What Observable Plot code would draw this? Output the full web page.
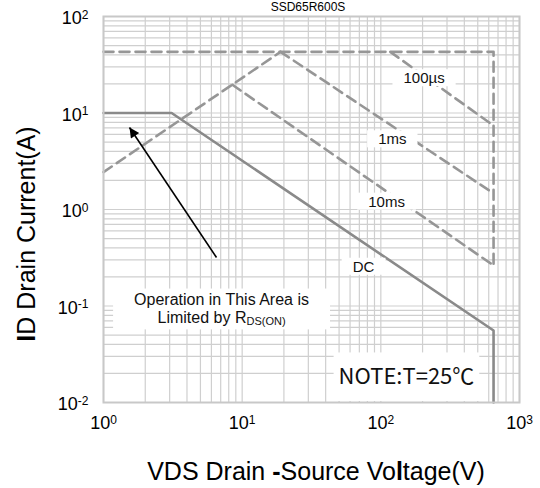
<!DOCTYPE html>
<html><head><meta charset="utf-8">
<script src="https://cdn.jsdelivr.net/npm/d3@7"></script>
<script src="https://cdn.jsdelivr.net/npm/@observablehq/plot@0.6"></script>
<style>body{margin:0;background:#fff;} svg{display:block;overflow:visible}</style>
</head><body><div id="chart"></div>
<script>
// ---- data ----
const titleText = "SSD65R600S";
const xTicks = [1, 10, 100, 1000];
const xExp = ["0", "1", "2", "3"];
const yTicks = [0.01, 0.1, 1, 10, 100];
const yExp = ["-2", "-1", "0", "1", "2"];

// DC (solid)
const dcV = [1, 3.1, 650, 650];
const dcI = [10, 10, 0.0557, 0.01];
// envelope: pulsed current limit + voltage limit (dashed)
const envV = [1, 650, 650];
const envI = [43, 43, 0.263];
// RDS(on) limit (dashed)
const rdsV = [1, 18.9];
const rdsI = [2.44, 43];
// pulse lines
const us100V = [117, 650];
const us100I = [43, 7.4];
const ms1V = [18.9, 650];
const ms1I = [43, 1.47];
const ms10V = [8.5, 650];
const ms10I = [19.6, 0.263];

const curveLabels = ["100µs", "1ms", "10ms", "DC"];
const curveLabelV = [205, 121, 110, 75];
const curveLabelI = [22.8, 5.31, 1.20, 0.254];

const opLines = ["Operation in This Area is", "Limited by R_DS(ON)"];
const opV = [7.1, 7.1];
const opI = [0.117, 0.076];

const noteText = "NOTE:T=25℃";
const noteV = [153];
const noteI = [0.0182];

const arrowFromV = 6.53, arrowFromI = 0.318;
const arrowToV = 1.54, arrowToI = 7.08;

// ---- chart ----
const W = 540, H = 488;
const pts = (v, i) => v.map((d, k) => ({v: d, i: i[k]}));
const sans = "Liberation Sans, Arial, Helvetica, sans-serif";
const dash = {x: "v", y: "i", stroke: "#969696", strokeWidth: 2.6, strokeDasharray: "10,6"};
const gridV = d3.scaleLog().domain([1, 1000]).ticks();
const gridI = d3.scaleLog().domain([0.01, 100]).ticks();

const svg = Plot.plot({
  width: W, height: H,
  marginLeft: 103, marginRight: 21, marginTop: 16, marginBottom: 86,
  style: {fontFamily: sans, background: "#fff", overflow: "visible"},
  x: {type: "log", domain: [1, 1000], axis: null},
  y: {type: "log", domain: [0.01, 100], axis: null},
  marks: [
    Plot.gridX({ticks: gridV, stroke: "#cfcfcf", strokeOpacity: 1, strokeWidth: 1.2}),
    Plot.gridY({ticks: gridI, stroke: "#cfcfcf", strokeOpacity: 1, strokeWidth: 1.2}),
    Plot.line(pts(envV, envI), dash),
    Plot.line(pts(rdsV, rdsI), dash),
    Plot.line(pts(us100V, us100I), dash),
    Plot.line(pts(ms1V, ms1I), dash),
    Plot.line(pts(ms10V, ms10I), dash),
    Plot.line(pts(dcV, dcI), {x: "v", y: "i", stroke: "#8a8a8a", strokeWidth: 2.6}),
    Plot.text(pts(curveLabelV, curveLabelI).map((p, k) => ({...p, t: curveLabels[k]})),
      {x: "v", y: "i", text: "t", fontSize: 15, fill: "#111"}),
    Plot.text(pts(opV, opI).map((p, k) => ({...p, t: opLines[k]})),
      {x: "v", y: "i", text: "t", fontSize: 16, fill: "#111"}),
    Plot.text(pts(noteV, noteI).map(p => ({...p, t: noteText})),
      {x: "v", y: "i", text: "t", fontSize: 22, fill: "#111", fontFamily: "Noto Sans CJK SC, Noto Sans, sans-serif"}),
    Plot.link([{x1: arrowFromV, y1: arrowFromI, x2: arrowToV, y2: arrowToI}],
      {x1: "x1", y1: "y1", x2: "x2", y2: "y2", stroke: "#000", strokeWidth: 1.6}),
    Plot.frame({stroke: "#c8c8c8", strokeWidth: 2}),
    Plot.text(xTicks, {x: d => d, frameAnchor: "bottom", lineAnchor: "middle", dy: 21, text: (d, k) => "10^" + xExp[k],
      fontSize: 18, fill: "#000", textAnchor: "middle"}),
    Plot.text(yTicks, {y: d => d, frameAnchor: "left", lineAnchor: "middle", dx: -15, dy: 2, text: (d, k) => "10^" + yExp[k],
      fontSize: 18, fill: "#000", textAnchor: "end"})
  ]
});

document.getElementById("chart").append(svg);
const NS = "http://www.w3.org/2000/svg";
const textGroups = [...svg.querySelectorAll('g[aria-label="text"]')];
const [gCurve, gOp, gNote, gXtick, gYtick] = textGroups;

// superscripts on tick labels
[gXtick, gYtick].forEach(g => g.querySelectorAll("text").forEach(t => {
  const [b, e] = t.textContent.split("^");
  t.textContent = "";
  const s1 = document.createElementNS(NS, "tspan"); s1.textContent = b; t.append(s1);
  const s2 = document.createElementNS(NS, "tspan"); s2.textContent = e;
  s2.setAttribute("dy", "-0.48em"); s2.setAttribute("font-size", "12"); t.append(s2);
}));
// subscript in RDS(ON)
gOp.querySelectorAll("text").forEach(t => {
  if (!t.textContent.includes("_")) return;
  const [b, e] = t.textContent.split("_");
  t.textContent = "";
  const s1 = document.createElementNS(NS, "tspan"); s1.textContent = b; t.append(s1);
  const s2 = document.createElementNS(NS, "tspan"); s2.textContent = e;
  s2.setAttribute("dy", "0.25em"); s2.setAttribute("font-size", "11"); t.append(s2);
});

// white boxes behind annotation texts
const root = svg.getBoundingClientRect();
function boxes(g, padX, padY, each, extendBottom) {
  const texts = [...g.querySelectorAll("text")];
  const groups = each ? texts.map(t => [t]) : [texts];
  for (const grp of groups) {
    let x0 = Infinity, y0 = Infinity, x1 = -Infinity, y1 = -Infinity;
    for (const t of grp) {
      const r = t.getBoundingClientRect();
      x0 = Math.min(x0, r.left - root.left); y0 = Math.min(y0, r.top - root.top);
      x1 = Math.max(x1, r.right - root.left); y1 = Math.max(y1, r.bottom - root.top);
    }
    const rect = document.createElementNS(NS, "rect");
    rect.setAttribute("x", x0 - padX); rect.setAttribute("y", y0 - padY);
    rect.setAttribute("width", x1 - x0 + 2 * padX);
    rect.setAttribute("height", (extendBottom ? extendBottom - (y0 - padY) : y1 - y0 + 2 * padY));
    rect.setAttribute("fill", "#fff");
    svg.insertBefore(rect, g);
  }
}
boxes(gCurve, 11, 0, true);
boxes(gOp, 21, 2, false);
boxes(gNote, 5, 6, false, 401);

// arrow head
const defs = document.createElementNS(NS, "defs");
defs.innerHTML = '<marker id="ah" viewBox="0 0 10 10" refX="10" refY="5" markerUnits="userSpaceOnUse" markerWidth="15" markerHeight="10" orient="auto"><path d="M0,0L10,5L0,10z" fill="#000"/></marker>';
svg.insertBefore(defs, svg.firstChild);
svg.querySelectorAll('g[aria-label="link"] path').forEach(p => p.setAttribute("marker-end", "url(#ah)"));

// titles
function addText(x, y, parts, size, rotate) {
  const t = document.createElementNS(NS, "text");
  t.setAttribute("font-family", sans); t.setAttribute("font-size", size);
  t.setAttribute("text-anchor", "middle"); t.setAttribute("fill", "#000");
  t.setAttribute("transform", `translate(${x},${y})` + (rotate ? ` rotate(${rotate})` : ""));
  for (const [s, bold] of parts) {
    const sp = document.createElementNS(NS, "tspan"); sp.textContent = s;
    if (bold) sp.setAttribute("font-weight", "bold");
    t.append(sp);
  }
  svg.append(t);
}
addText(308, 11, [[titleText, false]], 12);
addText(316, 480, [["VDS Drain ", false], ["-", true], ["Source Vo", false], ["l", true], ["tage(V)", false]], 25);
addText(35, 234, [["I", true], ["D Drain Current(A)", false]], 25, -90);
</script>
</body></html>
